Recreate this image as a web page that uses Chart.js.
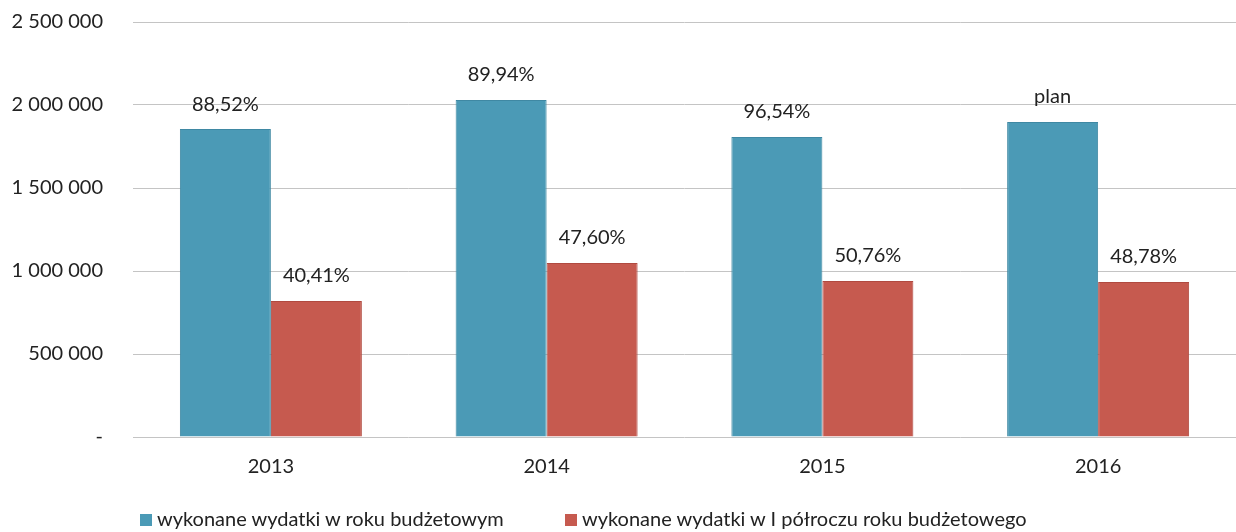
<!DOCTYPE html>
<html lang="pl">
<head>
    <meta charset="UTF-8">
    <title>Wydatki</title>
    <script src="https://cdn.jsdelivr.net/npm/chart.js"></script>
    <style>
        body {
            margin: 0;
            background: #fff;
            font-family: Lato, sans-serif;
        }
        .wrap {
            position: relative;
            width: 1236px;
            height: 532px;
        }
        .legend {
            position: absolute;
            top: 506px;
            left: 0;
            width: 1236px;
            font-size: 20px;
            color: #222;
        }
        .legend span.item {
            position: absolute;
            white-space: nowrap;
        }
        .legend i {
            display: inline-block;
            width: 12px;
            height: 12px;
            margin-right: 5px;
            vertical-align: 0px;
        }
    </style>
</head>
<body>
    <div class="wrap">
        <canvas id="myChart"></canvas>
        <div class="legend" id="legend"></div>
    </div>

    <script>
        const years = ['2013', '2014', '2015', '2016'];
        const seriesNames = ['wykonane wydatki w roku budżetowym', 'wykonane wydatki w I półroczu roku budżetowego'];
        const yearly = [1855000, 2030000, 1807000, 1898000];
        const halfYear = [819000, 1048000, 940000, 934000];
        const yearlyLabels = ['88,52%', '89,94%', '96,54%', 'plan'];
        const halfYearLabels = ['40,41%', '47,60%', '50,76%', '48,78%'];
        const colors = ['#4b9ab6', '#c65a4f'];
        const borders = ['#3f88a3', '#b04a40'];

        // legend drawn as html, Excel style spacing
        const legendEl = document.getElementById('legend');
        const legendLeft = [140, 565];
        seriesNames.forEach((name, i) => {
            const s = document.createElement('span');
            s.className = 'item';
            s.style.left = legendLeft[i] + 'px';
            s.innerHTML = '<i style="background:' + colors[i] + '"></i>' + name;
            legendEl.appendChild(s);
        });

        const labelPlugin = {
            id: 'barLabels',
            afterDatasetsDraw(chart) {
                const c = chart.ctx;
                c.save();
                c.font = '20px Lato';
                c.fillStyle = '#222';
                c.textAlign = 'center';
                c.textBaseline = 'middle';
                [yearlyLabels, halfYearLabels].forEach((labels, di) => {
                    chart.getDatasetMeta(di).data.forEach((bar, i) => {
                        c.fillText(labels[i], bar.x, bar.y - 25);
                    });
                });
                c.restore();
            }
        };

        const ctx = document.getElementById('myChart').getContext('2d');
        new Chart(ctx, {
            type: 'bar',
            data: {
                labels: years,
                datasets: [
                    { label: seriesNames[0], data: yearly, backgroundColor: colors[0], borderColor: borders[0], borderWidth: 1 },
                    { label: seriesNames[1], data: halfYear, backgroundColor: colors[1], borderColor: borders[1], borderWidth: 1 }
                ]
            },
            options: {
                responsive: true,
                maintainAspectRatio: false,
                animation: false,
                categoryPercentage: 0.66,
                barPercentage: 1.0,
                layout: { padding: { left: 12, top: 0, right: 0, bottom: 53 } },
                plugins: {
                    legend: { display: false },
                    tooltip: { enabled: false }
                },
                scales: {
                    x: {
                        grid: { display: false, drawTicks: false },
                        border: { display: false },
                        afterFit: s => { s.height = 42; },
                        ticks: { color: '#222', font: { family: 'Lato', size: 20 }, padding: 18 }
                    },
                    y: {
                        min: 0,
                        max: 2500000,
                        grid: { color: '#c4c4c4', lineWidth: 1, drawTicks: false },
                        border: { display: false },
                        afterFit: s => {
                            s.width = 121;
                            s.paddingTop = 22;
                            s.paddingBottom = 0;
                        },
                        ticks: {
                            stepSize: 500000,
                            padding: 30,
                            color: '#222',
                            font: { family: 'Lato', size: 20 },
                            callback: v => v === 0 ? '-' : v.toLocaleString('en-US').replace(/,/g, ' ')
                        }
                    }
                }
            },
            plugins: [labelPlugin]
        });
    </script>
</body>
</html>
